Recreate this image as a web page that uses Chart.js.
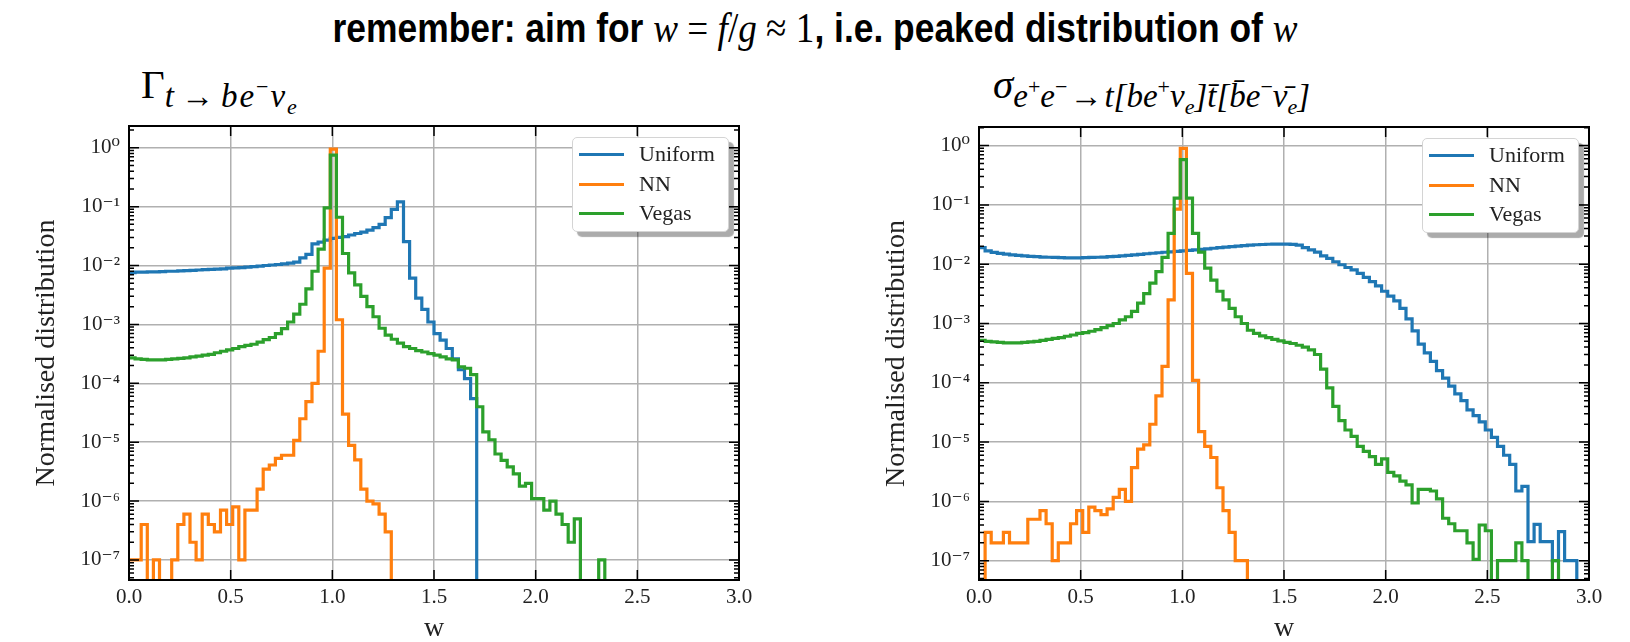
<!DOCTYPE html>
<html>
<head>
<meta charset="utf-8">
<script src="https://cdn.jsdelivr.net/npm/chart.js@4.4.1/dist/chart.umd.min.js"></script>
<style>
  body { margin: 0; width: 1630px; height: 642px; background: #fff; position: relative; overflow: hidden; }
  .box { position: absolute; }
  #title { position: absolute; left: 0; top: 4px; width: 1630px; text-align: center; line-height: 48px;
           font-family: 'Liberation Serif', serif; font-size: 42px; color: #000;
           transform: scaleX(0.885); transform-origin: 815px 0; white-space: nowrap; }
  #title .b { font-family: 'Liberation Sans', Arial, sans-serif; font-weight: bold; font-size: 40px; }
  .sub-title { position: absolute; font-family: 'Liberation Serif', serif; font-size: 41px; color: #000; white-space: nowrap; line-height: 48px; }
  .sub-title .s { font-style: italic; font-size: 33px; position: relative; top: 9px; }
  .sub-title .s .ar { font-style: normal; padding: 0 2px; }
  .sub-title .s .hi { font-size: 22px; position: relative; top: -13px; font-style: normal; }
  .sub-title .s .lo { font-size: 22px; position: relative; top: 7px; }
  #st1 .s { letter-spacing: 2px; }
  #st1 .s .ar { padding: 0 5px; }
  .legend { position: absolute; width: 157px; height: 95px; background: #fff; border: 1px solid #d4d4d4;
            border-radius: 5px; box-shadow: 5px 5px 1px rgba(0,0,0,0.33); box-sizing: border-box; }
  .legend .row { position: absolute; left: 0; height: 26px; line-height: 26px; font-family: 'Liberation Serif', serif;
                 font-size: 22px; color: #222; }
  .legend .sw { position: absolute; left: 6px; top: 12px; width: 45px; height: 3px; }
  .legend .lab { position: absolute; left: 66px; top: 0; }
</style>
</head>
<body>
<div id="title"><span class="b">remember: aim for </span><i>w</i>&nbsp;=&nbsp;<i>f</i>/<i>g</i>&nbsp;≈&nbsp;1<span class="b">, i.e. peaked distribution of </span><i>w</i></div>

<div class="sub-title" id="st1" style="left:141px; top:60px;">Γ<span class="s">t<span class="ar">→</span>be<span class="hi">−</span>ν<span class="lo">e</span></span></div>
<div class="sub-title" id="st2" style="left:993px; top:60px;"><i>σ</i><span class="s">e<span class="hi">+</span>e<span class="hi">−</span><span class="ar">→</span>t[be<span class="hi">+</span>ν<span class="lo">e</span>]t̄[b̄e<span class="hi">−</span>ν̄<span class="lo">e</span>]</span></div>

<div class="box" style="left:0; top:100px;"><canvas id="c1" width="780" height="560"></canvas></div>
<div class="box" style="left:850px; top:100px;"><canvas id="c2" width="780" height="560"></canvas></div>

<div class="legend" id="leg1" style="left:572px; top:137px;"></div>
<div class="legend" id="leg2" style="left:1422px; top:138px;"></div>

<script>
// histogram binning: 100 bins of width 0.03 on [0, 3]
const binWidth = 0.03;
const nBins = 100;
const binEdges = Array.from({ length: nBins + 1 }, (_, i) => Math.round(i * binWidth * 100) / 100);

const seriesNames = ['Uniform', 'NN', 'Vegas'];
const seriesColors = ['#1f77b4', '#ff7f0e', '#2ca02c'];

const xTicks = [0, 0.5, 1.0, 1.5, 2.0, 2.5, 3.0];
const yExponents = [-7, -6, -5, -4, -3, -2, -1, 0];

// left panel: t -> b e nu decay width
const leftUniform = [
  0.0076, 0.0077, 0.0077, 0.0078, 0.0078, 0.0079, 0.0080, 0.0080, 0.0081, 0.0082,
  0.0083, 0.0084, 0.0085, 0.0086, 0.0087, 0.0088, 0.0090, 0.0091, 0.0092, 0.0094,
  0.0096, 0.0098, 0.0100, 0.0102, 0.0104, 0.0107, 0.0110, 0.0114, 0.0135, 0.0155,
  0.0233, 0.025, 0.027, 0.029, 0.030, 0.031, 0.033, 0.035, 0.037, 0.040,
  0.044, 0.050, 0.065, 0.090, 0.12, 0.0255, 0.0061, 0.0028, 0.0018, 0.0011,
  7.0e-4, 5.4e-4, 3.9e-4, 2.6e-4, 1.7e-4, 1.2e-4, 5.5e-5, 0, 0, 0,
  0, 0, 0, 0, 0, 0, 0, 0, 0, 0,
  0, 0, 0, 0, 0, 0, 0, 0, 0, 0,
  0, 0, 0, 0, 0, 0, 0, 0, 0, 0,
  0, 0, 0, 0, 0, 0, 0, 0, 0, 0
];
const leftNN = [
  1e-7, 1e-7, 4e-7, 0, 1e-7, 0, 0, 1e-7, 4e-7, 6e-7,
  2e-7, 1e-7, 6e-7, 4e-7, 3e-7, 7e-7, 4e-7, 8e-7, 1e-7, 7e-7,
  7e-7, 1.6e-6, 3.5e-6, 4.1e-6, 5.3e-6, 6e-6, 6e-6, 1.07e-5, 2.5e-5, 4.9e-5,
  1e-4, 3.5e-4, 9e-3, 0.95, 1.2e-3, 3e-5, 8.8e-6, 5e-6, 1.6e-6, 1e-6,
  9e-7, 6e-7, 3e-7, 0, 0, 0, 0, 0, 0, 0,
  0, 0, 0, 0, 0, 0, 0, 0, 0, 0,
  0, 0, 0, 0, 0, 0, 0, 0, 0, 0,
  0, 0, 0, 0, 0, 0, 0, 0, 0, 0,
  0, 0, 0, 0, 0, 0, 0, 0, 0, 0,
  0, 0, 0, 0, 0, 0, 0, 0, 0, 0
];
const leftVegas = [
  2.7e-4, 2.6e-4, 2.55e-4, 2.5e-4, 2.5e-4, 2.5e-4, 2.55e-4, 2.6e-4, 2.65e-4, 2.7e-4,
  2.8e-4, 2.9e-4, 3.0e-4, 3.1e-4, 3.3e-4, 3.5e-4, 3.7e-4, 3.9e-4, 4.2e-4, 4.4e-4,
  4.6e-4, 5.0e-4, 5.5e-4, 6.0e-4, 7.0e-4, 8.5e-4, 1.1e-3, 1.5e-3, 2.2e-3, 4.0e-3,
  8e-3, 0.019, 0.095, 0.75, 0.066, 0.016, 0.0075, 4.7e-3, 3e-3, 2e-3,
  1.35e-3, 8.6e-4, 6.6e-4, 5.6e-4, 4.8e-4, 4.2e-4, 3.9e-4, 3.6e-4, 3.4e-4, 3.2e-4,
  3.0e-4, 2.8e-4, 2.6e-4, 2.5e-4, 1.9e-4, 1.8e-4, 1.4e-4, 4e-5, 1.5e-5, 1.1e-5,
  6.3e-6, 4.9e-6, 3.8e-6, 2.9e-6, 1.8e-6, 2e-6, 1.1e-6, 1.1e-6, 7e-7, 1e-6,
  6e-7, 4e-7, 2e-7, 5e-7, 0, 0, 0, 1e-7, 0, 0,
  0, 0, 0, 0, 0, 0, 0, 0, 0, 0,
  0, 0, 0, 0, 0, 0, 0, 0, 0, 0
];

// right panel: e+e- -> t tbar cross section
const rightUniform = [
  0.019, 0.0168, 0.0158, 0.0152, 0.0148, 0.0144, 0.0141, 0.0138, 0.0136, 0.0134,
  0.0132, 0.0131, 0.0130, 0.0129, 0.0128, 0.0128, 0.0128, 0.0129, 0.0130, 0.0131,
  0.0132, 0.0134, 0.0136, 0.0138, 0.0141, 0.0144, 0.0147, 0.0150, 0.0153, 0.0156,
  0.0159, 0.0162, 0.0165, 0.0168, 0.0171, 0.0174, 0.0178, 0.0182, 0.0186, 0.0190,
  0.0194, 0.0198, 0.0202, 0.0206, 0.0210, 0.0213, 0.0215, 0.0217, 0.0218, 0.0218,
  0.0218, 0.0216, 0.0210, 0.0190, 0.0175, 0.0160, 0.0138, 0.0125, 0.0110, 0.0098,
  0.0088, 0.0080, 0.0070, 0.0060, 0.0051, 0.0043, 0.0035, 0.0029, 0.0024, 0.0018,
  0.0012, 7.5e-4, 4.5e-4, 3.2e-4, 2.3e-4, 1.6e-4, 1.2e-4, 8.8e-5, 6.5e-5, 5e-5,
  3.5e-5, 2.8e-5, 2.2e-5, 1.6e-5, 1.2e-5, 8.5e-6, 6e-6, 4.2e-6, 1.5e-6, 1.8e-6,
  2.1e-7, 4.1e-7, 2.1e-7, 2.1e-7, 1e-7, 3.1e-7, 1e-7, 1e-7, 0, 0
];
const rightNN = [
  0, 3e-7, 2e-7, 2e-7, 3e-7, 2e-7, 2e-7, 2e-7, 5e-7, 5e-7,
  7e-7, 4.2e-7, 1e-7, 2e-7, 2e-7, 4.2e-7, 7e-7, 3e-7, 8e-7, 7e-7,
  6e-7, 7.5e-7, 1.17e-6, 1.6e-6, 1e-6, 3.7e-6, 7.6e-6, 9e-6, 2e-5, 6e-5,
  1.9e-4, 2.5e-3, 0.085, 0.9, 7e-3, 1.1e-4, 1.5e-5, 8.5e-6, 5.5e-6, 1.7e-6,
  7e-7, 3e-7, 1e-7, 1e-7, 0, 0, 0, 0, 0, 0,
  0, 0, 0, 0, 0, 0, 0, 0, 0, 0,
  0, 0, 0, 0, 0, 0, 0, 0, 0, 0,
  0, 0, 0, 0, 0, 0, 0, 0, 0, 0,
  0, 0, 0, 0, 0, 0, 0, 0, 0, 0,
  0, 0, 0, 0, 0, 0, 0, 0, 0, 0
];
const rightVegas = [
  5.2e-4, 5.0e-4, 4.9e-4, 4.8e-4, 4.7e-4, 4.7e-4, 4.7e-4, 4.8e-4, 4.9e-4, 5.0e-4,
  5.2e-4, 5.4e-4, 5.6e-4, 5.8e-4, 6.1e-4, 6.4e-4, 6.8e-4, 7.0e-4, 7.4e-4, 7.9e-4,
  8.5e-4, 9.2e-4, 1.0e-3, 1.15e-3, 1.3e-3, 1.6e-3, 2.2e-3, 3.2e-3, 4.8e-3, 7.5e-3,
  0.013, 0.033, 0.13, 0.58, 0.13, 0.033, 0.016, 8.6e-3, 5.4e-3, 3.5e-3,
  2.5e-3, 1.8e-3, 1.3e-3, 1.0e-3, 7.7e-4, 6.8e-4, 6.2e-4, 5.8e-4, 5.4e-4, 5.1e-4,
  4.8e-4, 4.6e-4, 4.3e-4, 4.0e-4, 3.6e-4, 3.0e-4, 1.7e-4, 8.2e-5, 4e-5, 2.3e-5,
  1.6e-5, 1.25e-5, 8.5e-6, 7e-6, 5.7e-6, 4.2e-6, 5.2e-6, 3.1e-6, 2.7e-6, 2.2e-6,
  1.9e-6, 9.4e-7, 1.6e-6, 1.6e-6, 1.5e-6, 1.1e-6, 5.2e-7, 4.2e-7, 3.2e-7, 3.2e-7,
  2e-7, 1.05e-7, 4e-7, 3.2e-7, 0, 1e-7, 1e-7, 1e-7, 2e-7, 1e-7,
  0, 0, 0, 0, 1e-7, 0, 0, 0, 0, 0
];

const serif = "'Liberation Serif', 'DejaVu Serif', serif";
const supDigits = { '-': '⁻', '0': '⁰', '1': '¹', '2': '²', '3': '³', '4': '⁴', '5': '⁵', '6': '⁶', '7': '⁷', '8': '⁸', '9': '⁹' };
function powLabel(v) {
  const e = String(Math.round(Math.log10(v)));
  return '10' + e.split('').map(c => supDigits[c]).join('');
}

// empty bins sit far below the axis so the step drops out of view
function toSteps(values) {
  const pts = values.map((v, i) => ({ x: binEdges[i], y: v > 0 ? v : 1e-12 }));
  pts.push({ x: binEdges[nBins], y: pts[pts.length - 1].y });
  return pts;
}

// inward ticks on all four sides plus the black frame
const frameTicks = {
  id: 'frameTicks',
  afterDatasetsDraw(chart) {
    const { ctx, chartArea: a, scales: { x, y } } = chart;
    ctx.save();
    ctx.strokeStyle = '#000';
    ctx.lineWidth = 1.5;
    ctx.beginPath();
    xTicks.forEach(v => {
      const px = x.getPixelForValue(v);
      ctx.moveTo(px, a.bottom); ctx.lineTo(px, a.bottom - 10);
      ctx.moveTo(px, a.top); ctx.lineTo(px, a.top + 10);
    });
    for (let e = -8; e <= 0; e++) {
      for (let m = 1; m <= 9; m++) {
        const v = m * Math.pow(10, e);
        if (v < y.min || v > y.max) continue;
        const py = y.getPixelForValue(v);
        const len = m === 1 ? 10 : 5;
        ctx.moveTo(a.left, py); ctx.lineTo(a.left + len, py);
        ctx.moveTo(a.right, py); ctx.lineTo(a.right - len, py);
      }
    }
    ctx.stroke();
    ctx.lineWidth = 2;
    ctx.strokeRect(a.left, a.top, a.right - a.left, a.bottom - a.top);
    ctx.restore();
  }
};

function makeChart(id, series, yMin, yMax, padTop) {
  const datasets = series.map((vals, k) => ({
    label: seriesNames[k],
    data: toSteps(vals),
    borderColor: seriesColors[k],
    borderWidth: 3.2,
    stepped: 'before',
    pointRadius: 0,
    fill: false,
    order: 3 - k
  }));
  return new Chart(document.getElementById(id), {
    type: 'line',
    data: { datasets },
    options: {
      responsive: false,
      animation: false,
      layout: { padding: { left: 0, right: 41, top: padTop, bottom: 0 } },
      plugins: { legend: { display: false }, tooltip: { enabled: false } },
      scales: {
        x: {
          type: 'linear', min: 0, max: 3,
          afterBuildTicks: s => { s.ticks = xTicks.map(v => ({ value: v })); },
          afterFit: s => { s.height = 80; },
          ticks: { callback: v => v.toFixed(1), font: { family: serif, size: 21 }, color: '#222', padding: 5, maxRotation: 0, autoSkip: false },
          grid: { color: '#b0b0b0', lineWidth: 1.5, drawTicks: false },
          border: { display: false },
          title: { display: true, text: 'w', font: { family: serif, size: 28 }, color: '#222', padding: { top: 0, bottom: 15 } }
        },
        y: {
          type: 'logarithmic', min: yMin, max: yMax,
          afterBuildTicks: s => { s.ticks = yExponents.map(e => ({ value: Math.pow(10, e) })); },
          afterFit: s => { s.width = 129; },
          ticks: { callback: v => powLabel(v), font: { family: serif, size: 21 }, color: '#222', padding: 9, autoSkip: false },
          grid: { color: '#b0b0b0', lineWidth: 1.5, drawTicks: false },
          border: { display: false },
          title: { display: true, text: 'Normalised distribution', font: { family: serif, size: 28 }, color: '#222', padding: { top: 30, bottom: 0 } }
        }
      }
    },
    plugins: [frameTicks]
  });
}

makeChart('c1', [leftUniform, leftNN, leftVegas], 4.57e-8, 2.34, 26);
makeChart('c2', [rightUniform, rightNN, rightVegas], 4.73e-8, 2.06, 27);

// legends drawn as boxes in the upper right corner of each panel
['leg1', 'leg2'].forEach(id => {
  const box = document.getElementById(id);
  seriesNames.forEach((name, k) => {
    const row = document.createElement('div');
    row.className = 'row';
    row.style.top = (3 + k * 29.5) + 'px';
    row.style.width = '150px';
    row.innerHTML = '<span class="sw" style="background:' + seriesColors[k] + '"></span><span class="lab">' + name + '</span>';
    box.appendChild(row);
  });
});
</script>
</body>
</html>
